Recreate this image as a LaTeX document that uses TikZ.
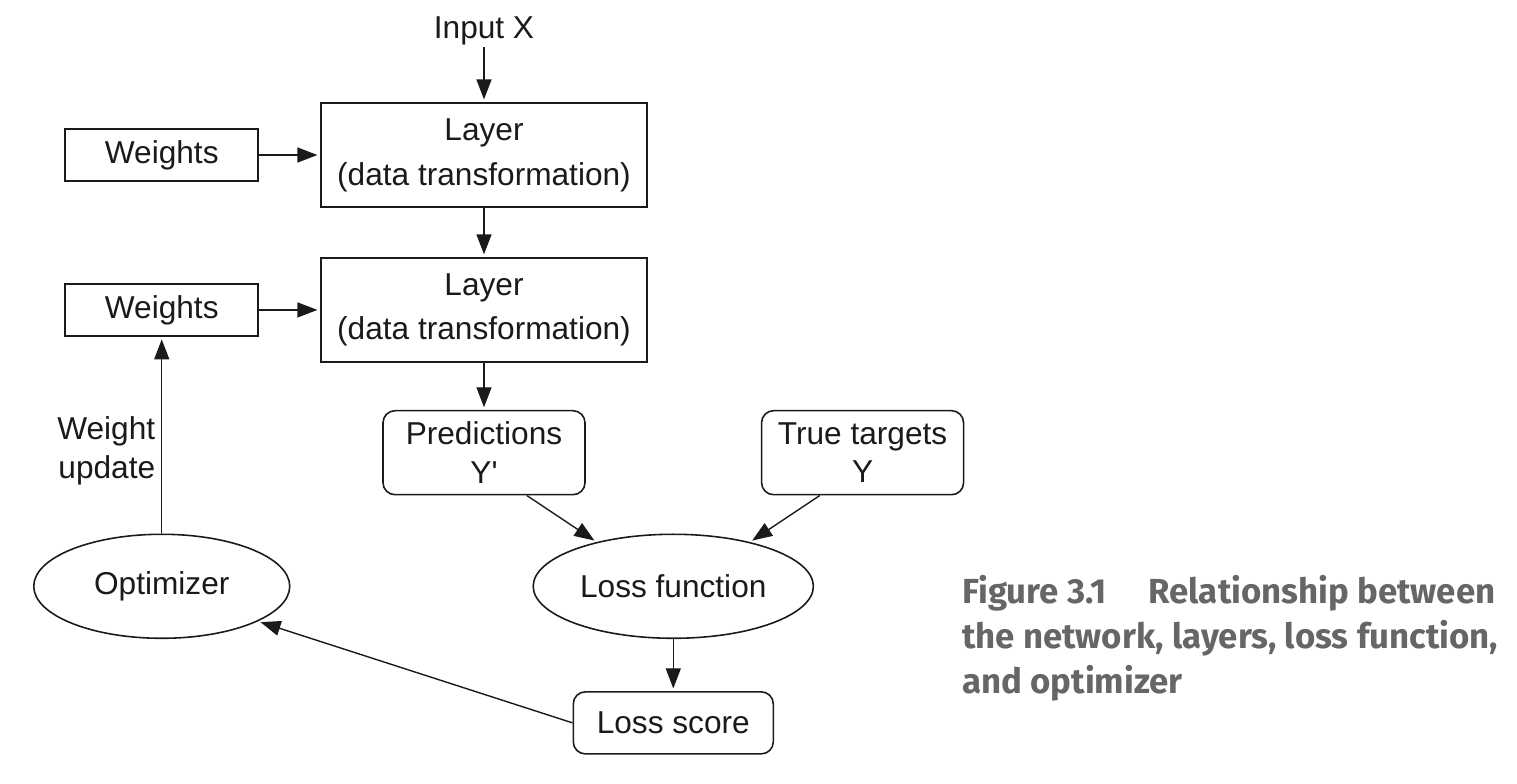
\documentclass[tikz,border=0pt]{standalone}
\usepackage{fontspec}
\setmainfont{Liberation Sans}
\newfontfamily\captionfont{Fira Sans}
\usepackage{xcolor}
\usetikzlibrary{
    arrows.meta,
    positioning,
    shapes.geometric,
    calc
}
\definecolor{captiongray}{HTML}{666666}
\definecolor{inkblack}{HTML}{1A1A1A}

\begin{document}
\begin{tikzpicture}[
        node distance=1cm,
        font=\fontsize{18}{22}\selectfont,
        every node/.style={text=inkblack},
        layerbox/.style={
            rectangle,
            draw=inkblack,
            line width=1.1pt,
            align=center,
            font=\fontsize{18}{25.5}\selectfont,
            minimum width=6.52cm,
            minimum height=2.08cm
        },
        weightbox/.style={
            rectangle,
            draw=inkblack,
            line width=0.9pt,
            minimum width=3.86cm,
            minimum height=1.04cm
        },
        databox/.style={
            rectangle,
            rounded corners=0.24cm,
            draw=inkblack,
            line width=0.9pt,
            align=center,
            minimum width=4.04cm,
            minimum height=1.68cm
        },
        scorebox/.style={
            databox,
            minimum width=4.0cm,
            minimum height=1.24cm
        },
        blob/.style={
            ellipse,
            draw=inkblack,
            line width=0.9pt,
            minimum width=5.12cm,
            minimum height=2.08cm
        },
        line/.style={
            -{Triangle[length=0.4cm, width=0.3cm]},
            draw=inkblack,
            line width=0.8pt,
            shorten >=1.5pt
        },
        captiontext/.style={
            align=left,
            text=captiongray,
            font=\captionfont\bfseries\fontsize{19.8}{25.6}\selectfont
        }
    ]

    \useasboundingbox (0,0) rectangle (30.34,-15.66);

    \node[layerbox] (layer1) at (9.68,-3.1)
        {Layer\\(data transformation)};

    \node[layerbox, below=0.98cm of layer1] (layer2)
        {Layer\\(data transformation)};

    \node[weightbox, left=1.22cm of layer1] (weights1) {Weights};
    \node[weightbox, left=1.22cm of layer2] (weights2) {Weights};

    \node[above=1.1cm of layer1, inner sep=1pt] (input) {Input X};

    \node[databox, below=0.94cm of layer2] (pred)
        {Predictions\\Y\textquotesingle};

    \node[databox, right=3.5cm of pred] (targets)
        {True targets\\Y};

    \coordinate (mid) at ($(pred.south)!0.5!(targets.south)$);

    \node[blob, below=0.76cm of mid] (lossfn) {Loss function};

    \node[scorebox, below=1.04cm of lossfn] (score) {Loss score};

    \node[blob] (opt) at (weights2 |- lossfn) {Optimizer};

    \node[captiontext, anchor=west] (caption) at (19.12,-12.76)
        {Figure 3.1\hspace{0.85cm}Relationship between\\
         the network, layers, loss function,\\
         and optimizer};

    \draw[line] (input) -- (layer1);
    \draw[line] (weights1) -- (layer1);
    \draw[line] (layer1) -- (layer2);
    \draw[line] (weights2) -- (layer2);
    \draw[line] (layer2) -- (pred);
    \draw[line] (pred.-45) -- (lossfn.150);
    \draw[line] (targets.-135) -- (lossfn.30);
    \draw[line, line width=0.6pt] (lossfn) -- (score);
    \draw[line] (score.west) -- (opt.-20);
    \draw[line] (opt) -- node[pos=0.42, left, align=right]
        {Weight\\update} (weights2);

    \end{tikzpicture}
\end{document}
